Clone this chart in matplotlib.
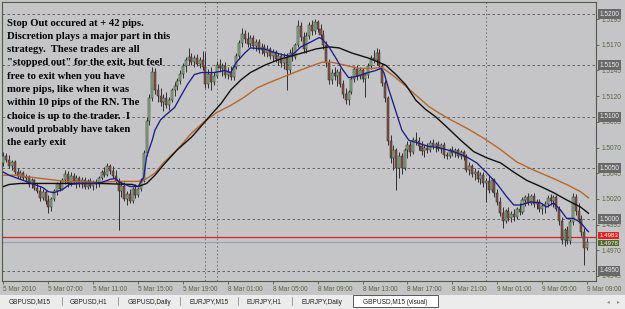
import matplotlib
matplotlib.use("Agg")
import matplotlib.pyplot as plt
from matplotlib.transforms import blended_transform_factory
from matplotlib.patches import Rectangle
from matplotlib.lines import Line2D

W, H = 625, 309
BG = "#c5c5c7"
BULL = "#8fb48a"
BEAR = "#8a5448"
WICK = "#262626"
TICK = "#56653f"

# GBPUSD M15 bars, prices as pips above 1.4900
opens = [155, 162, 158, 152, 156, 146, 142, 145, 140, 141,
         134, 138, 131, 128, 121, 127, 118, 112, 120, 128,
         134, 130, 138, 144, 135, 142, 137, 140, 134, 138,
         132, 137, 133, 136, 134, 140, 146, 143, 152, 147,
         142, 137, 128, 133, 120, 125, 118, 130, 124, 130,
         138, 165, 196, 218, 244, 226, 220, 214, 218, 211,
         216, 226, 230, 235, 242, 249, 255, 258, 253, 257,
         251, 255, 248, 232, 242, 234, 240, 250, 247, 249,
         241, 244, 239, 248, 259, 272, 281, 276, 271, 277,
         269, 273, 265, 268, 262, 266, 259, 263, 256, 259,
         252, 258, 245, 262, 258, 270, 288, 278, 266, 279,
         289, 283, 292, 285, 280, 270, 252, 236, 243, 240,
         244, 232, 222, 216, 224, 237, 246, 240, 245, 237,
         241, 249, 257, 255, 262, 249, 233, 218, 176, 160,
         168, 150, 162, 150, 168, 172, 166, 177, 176, 171,
         167, 170, 168, 174, 171, 173, 169, 172, 163, 162,
         168, 165, 168, 162, 166, 161, 148, 152, 144, 146,
         139, 143, 135, 137, 129, 138, 126, 117, 106, 98,
         108, 101, 105, 102, 110, 107, 119, 122, 116, 123,
         115, 117, 110, 113, 115, 121, 118, 122, 110, 98,
         80, 90, 79, 97, 122, 108, 100, 88, 72]
highs = [166, 165, 163, 158, 158, 150, 148, 147, 144, 143,
         140, 139, 135, 133, 130, 129, 124, 122, 130, 136,
         138, 140, 148, 147, 146, 145, 143, 142, 141, 141,
         139, 140, 138, 139, 142, 148, 151, 155, 154, 152,
         148, 140, 136, 136, 128, 130, 132, 134, 132, 140,
         168, 200, 222, 248, 247, 232, 228, 222, 224, 219,
         228, 234, 238, 245, 252, 258, 267, 262, 260, 261,
         258, 264, 263, 246, 248, 244, 254, 256, 252, 253,
         248, 249, 250, 262, 275, 286, 284, 282, 280, 280,
         276, 276, 272, 271, 270, 268, 266, 265, 262, 262,
         262, 262, 266, 268, 272, 294, 292, 282, 282, 292,
         294, 295, 294, 290, 284, 274, 256, 246, 248, 246,
         247, 236, 228, 226, 240, 249, 250, 248, 247, 244,
         252, 260, 265, 267, 266, 252, 236, 220, 182, 172,
         170, 166, 165, 170, 176, 176, 180, 185, 180, 176,
         172, 174, 177, 178, 175, 176, 174, 175, 166, 170,
         171, 170, 170, 168, 168, 164, 156, 154, 150, 148,
         146, 146, 140, 142, 140, 140, 130, 122, 112, 110,
         112, 108, 110, 112, 116, 122, 124, 126, 125, 126,
         120, 120, 116, 118, 124, 125, 124, 124, 113, 102,
         92, 94, 100, 126, 125, 116, 104, 92, 82]
lows = [152, 156, 150, 148, 144, 140, 139, 138, 136, 132,
        131, 129, 126, 118, 119, 115, 106, 108, 118, 124,
        128, 129, 134, 132, 133, 134, 131, 132, 131, 130,
        130, 131, 129, 131, 132, 138, 141, 142, 144, 140,
        135, 90, 122, 118, 114, 116, 116, 121, 122, 128,
        136, 162, 192, 215, 222, 214, 210, 206, 208, 207,
        214, 220, 226, 232, 238, 244, 250, 250, 248, 249,
        247, 245, 228, 228, 226, 231, 238, 244, 240, 238,
        237, 236, 236, 246, 256, 268, 272, 268, 268, 266,
        264, 262, 261, 259, 258, 256, 254, 253, 250, 248,
        246, 226, 242, 254, 256, 268, 274, 262, 262, 276,
        280, 281, 282, 276, 266, 248, 232, 232, 236, 230,
        229, 218, 212, 211, 222, 234, 236, 237, 234, 219,
        238, 246, 252, 250, 246, 230, 214, 172, 155, 148,
        129, 140, 144, 148, 160, 162, 164, 172, 168, 163,
        161, 165, 166, 169, 166, 167, 165, 160, 159, 160,
        162, 161, 160, 159, 158, 146, 143, 141, 138, 136,
        134, 132, 117, 126, 127, 122, 114, 103, 92, 96,
        98, 97, 98, 100, 104, 105, 113, 114, 114, 112,
        110, 107, 105, 106, 112, 114, 112, 108, 95, 76,
        74, 76, 76, 95, 104, 96, 84, 56, 70]
closes = [162, 158, 152, 156, 146, 142, 145, 140, 141, 134,
          138, 131, 128, 121, 127, 118, 112, 120, 128, 134,
          130, 138, 144, 135, 142, 137, 140, 134, 138, 132,
          137, 133, 136, 134, 140, 146, 143, 152, 147, 142,
          137, 128, 133, 120, 125, 118, 130, 124, 130, 138,
          165, 196, 218, 244, 226, 220, 214, 218, 211, 216,
          226, 230, 235, 242, 249, 255, 258, 253, 257, 251,
          255, 248, 232, 242, 234, 240, 250, 247, 249, 241,
          244, 239, 248, 259, 272, 281, 276, 271, 277, 269,
          273, 265, 268, 262, 266, 259, 263, 256, 259, 252,
          258, 245, 262, 258, 270, 288, 278, 266, 279, 289,
          283, 292, 285, 280, 270, 252, 236, 243, 240, 244,
          232, 222, 216, 224, 237, 246, 240, 245, 237, 241,
          249, 257, 255, 262, 249, 233, 218, 176, 160, 168,
          150, 162, 150, 168, 172, 166, 177, 176, 171, 167,
          170, 168, 174, 171, 173, 169, 172, 163, 162, 168,
          165, 168, 162, 166, 161, 148, 152, 144, 146, 139,
          143, 135, 137, 129, 138, 126, 117, 106, 98, 108,
          101, 105, 102, 110, 107, 119, 122, 116, 123, 115,
          117, 110, 113, 115, 121, 118, 122, 110, 98, 80,
          90, 79, 97, 122, 108, 100, 88, 72, 78]

# moving averages (bar index, pips above 1.4900)
fast_bar = [0, 2, 10, 14, 16, 18, 21, 23.5, 27, 32, 35, 38, 40, 41, 45, 48, 50, 51, 53, 54,
            56, 58, 61, 63, 65.5, 68, 70.5, 75, 79, 81, 83, 86, 88, 93, 96, 100, 102.5, 106, 109, 112.5,
            113.5, 116, 118.5, 120.6, 123, 125.6, 127.8, 130, 132.7, 134.5, 135.6, 137.4, 140, 142, 144.5,
            147, 151.6, 155, 160.5, 165, 168.7, 172, 175.8, 179.4, 181.9, 184.3, 187.9, 191.5, 193.6,
            196.1, 198.6, 200.7, 203.2, 205.7, 207.8, 208.5]
fast_pips = [146, 143, 135, 131, 127, 126, 129, 134, 135, 135, 136, 139, 140, 137, 132, 132, 141, 161, 177, 187,
             197, 202, 209, 219, 231, 241, 243, 243, 245, 243, 253, 262, 267, 266, 263, 260, 259, 268, 272, 277,
             276, 268, 257, 247, 238, 239, 241, 243, 245, 247, 243, 226, 204, 187, 177,
             175, 171, 170, 166, 161, 155, 146, 135, 122, 114, 114, 117, 116, 112,
             116, 109, 101, 101, 97, 90, 88]
mid_bar = [0, 2, 6, 16, 34, 46, 48, 51, 54, 57, 62, 67, 71.5, 74, 77.6, 81, 84.7, 88, 93, 97.5,
           102.5, 106.4, 111.4, 116, 119.6, 124.2, 130.2, 133.8, 136.3, 139.9, 143.4, 147, 150.5, 154,
           158, 163, 167.6, 172.2, 177.2, 181.9, 186.5, 191.5, 196.1, 200.7, 205.7, 208.5]
mid_pips = [132, 134, 135, 135, 135, 134, 132, 135, 143, 153, 168, 180, 194, 202, 213, 226, 236, 243, 250, 255,
            259, 262, 266, 268, 267, 262, 257, 253, 250, 241, 231, 216, 207, 200,
            190, 177, 166, 160, 155, 146, 138, 132, 126, 119, 112, 106]
slow_bar = [0, 4.6, 10, 16, 22, 34, 40, 49.5, 54, 57, 62, 67, 71.5, 76, 81, 85.8, 90.4, 95.4, 100, 103.6,
            106.4, 111.4, 113.5, 117, 122, 126.7, 131.3, 134.9, 138.4, 142, 147, 151.6, 155, 159.4, 165,
            171.2, 177.2, 182.9, 189, 195, 200.7, 205.7, 208.5]
slow_pips = [143, 143, 141, 139, 137, 136, 137, 137, 145, 155, 168, 184, 195, 204, 211, 219, 228, 234, 239, 243,
             246, 251, 253, 253, 250, 247, 247, 248, 241, 233, 221, 210, 204, 197, 189,
             179, 168, 156, 148, 141, 134, 127, 121]

time_label_bars = [0, 16, 32, 48, 64, 80, 96, 112, 128, 144, 160, 176, 192, 208]
time_labels = ["5 Mar 2010", "5 Mar 07:00", "5 Mar 11:00", "5 Mar 15:00", "5 Mar 19:00",
               "8 Mar 01:00", "8 Mar 05:00", "8 Mar 09:00", "8 Mar 13:00", "8 Mar 17:00",
               "8 Mar 21:00", "9 Mar 01:00", "9 Mar 05:00", "9 Mar 09:00"]
separator_bars = [72, 76, 172]
price_ticks = [1.4945, 1.4970, 1.4995, 1.5020, 1.5045, 1.5070, 1.5095, 1.5120, 1.5145, 1.5170, 1.5195]
round_levels = [1.4950, 1.5000, 1.5050, 1.5100, 1.5150, 1.5200]
ask_price = 1.4983
bid_price = 1.4978

note_lines = ["Stop Out occured at + 42 pips.",
              "Discretion plays a major part in this",
              "strategy.  These trades are all",
              "\"stopped out\" for the exit, but feel",
              "free to exit when you have",
              "more pips, like when it was",
              "within 10 pips of the RN. The",
              "choice is up to the trader.  I",
              "would probably have taken",
              "the early exit"]
tabs = ["GBPUSD,M15", "GBPUSD,H1", "GBPUSD,Daily", "EURJPY,M15", "EURJPY,H1", "EURJPY,Daily",
        "GBPUSD,M15 (visual)"]
tab_centers = [30, 88, 149, 209, 264, 322, 395]


def to_price(v):
    return 1.49 + v / 10000.0


fig = plt.figure(figsize=(W / 100, H / 100), dpi=100, facecolor=BG)
ax = fig.add_axes([2 / W, 1 - 281 / H, 594 / W, 279 / H])
ax.set_facecolor(BG)
ax.set_xlim(-0.53, 211.2)
ax.set_ylim(1.49400, 1.52117)

for lv in round_levels:
    ax.axhline(lv, color="#555555", lw=0.6, ls=(0, (3, 3)), zorder=1)
for b in separator_bars:
    ax.axvline(b, color="#666666", lw=0.6, ls=(0, (2, 2.5)), zorder=1)
ax.axhline(ask_price, color="#d42424", lw=0.9, zorder=2)
ax.axhline(bid_price, color="#98a2b4", lw=0.9, zorder=2)

# candles
idx = list(range(len(closes)))
o = [to_price(v) for v in opens]
hi = [to_price(v) for v in highs]
lo = [to_price(v) for v in lows]
c = [to_price(v) for v in closes]
ax.vlines(idx, lo, hi, color=WICK, lw=0.65, zorder=3)
bottoms = [min(a, b) for a, b in zip(o, c)]
heights = [max(abs(b - a), 0.00004) for a, b in zip(o, c)]
colors = [BULL if b >= a else BEAR for a, b in zip(o, c)]
ax.bar(idx, heights, bottom=bottoms, width=0.72, color=colors, edgecolor=WICK, linewidth=0.35, zorder=3)

# moving averages
ax.plot(slow_bar, [to_price(v) for v in slow_pips], color="#b5682f", lw=1.0, zorder=4)
ax.plot(mid_bar, [to_price(v) for v in mid_pips], color="#101010", lw=1.0, zorder=4)
ax.plot(fast_bar, [to_price(v) for v in fast_pips], color="#1c1c8a", lw=0.95, zorder=5)

# axes styling
for s in ax.spines.values():
    s.set_color("#505a46")
    s.set_linewidth(0.8)
ax.yaxis.tick_right()
ax.set_yticks(price_ticks)
ax.set_yticklabels([f"{p:.4f}" for p in price_ticks], family="Liberation Sans")
ax.tick_params(axis="y", length=2.2, width=0.6, pad=1.5, labelsize=4.7, colors=TICK)
ax.set_xticks(time_label_bars)
ax.set_xticklabels(time_labels, ha="left", family="Liberation Sans")
ax.tick_params(axis="x", length=2.2, width=0.6, pad=1.5, labelsize=4.7, colors=TICK)

trans = blended_transform_factory(ax.transAxes, ax.transData)
for lv in round_levels:
    ax.text(1.0055, lv, f"{lv:.4f}", transform=trans, ha="left", va="center", fontsize=4.7,
            family="Liberation Sans", color="#eeeeee",
            bbox=dict(boxstyle="square,pad=0.22", fc="#686868", ec="none"), clip_on=False, zorder=10)
ax.text(1.0055, ask_price + 0.0001, f"{ask_price:.4f}", transform=trans, ha="left", va="center",
        fontsize=4.4, family="Liberation Sans", color="#ffffff",
        bbox=dict(boxstyle="square,pad=0.15", fc="#e02222", ec="none"), clip_on=False, zorder=10)
ax.text(1.0055, bid_price - 0.0001, f"{bid_price:.4f}", transform=trans, ha="left", va="center",
        fontsize=4.4, family="Liberation Sans", color="#f4f4f4",
        bbox=dict(boxstyle="square,pad=0.15", fc="#4d6a2c", ec="none"), clip_on=False, zorder=11)

# annotation
for k, line in enumerate(note_lines):
    fig.text(7 / W, 1 - (23 + 13.33 * k) / H, line, ha="left", va="center",
             family="Liberation Serif", weight="bold", fontsize=7.7, color="#000000")

# tab bar
fig.add_artist(Rectangle((0, 0), 1, 14 / H, transform=fig.transFigure, fc="#ececec", ec="none"))
fig.add_artist(Rectangle((353 / W, 2 / H), 85 / W, 12 / H, transform=fig.transFigure,
                         fc="#ffffff", ec="#404040", lw=0.6))
for name, cx in zip(tabs, tab_centers):
    fig.text(cx / W, 1 - 302 / H, name, ha="center", va="center", fontsize=4.7,
             family="Liberation Sans", color="#222222")
for sx in [62, 118, 180, 238, 292]:
    fig.add_artist(Line2D([sx / W, sx / W], [4 / H, 12 / H], transform=fig.transFigure,
                          color="#909090", lw=0.6))
fig.text(608 / W, 1 - 302 / H, "\u25c2", ha="center", va="center", fontsize=4, color="#888888")
fig.text(618 / W, 1 - 302 / H, "\u25b8", ha="center", va="center", fontsize=4, color="#888888")

fig.savefig("out.png", dpi=100, facecolor=BG)
